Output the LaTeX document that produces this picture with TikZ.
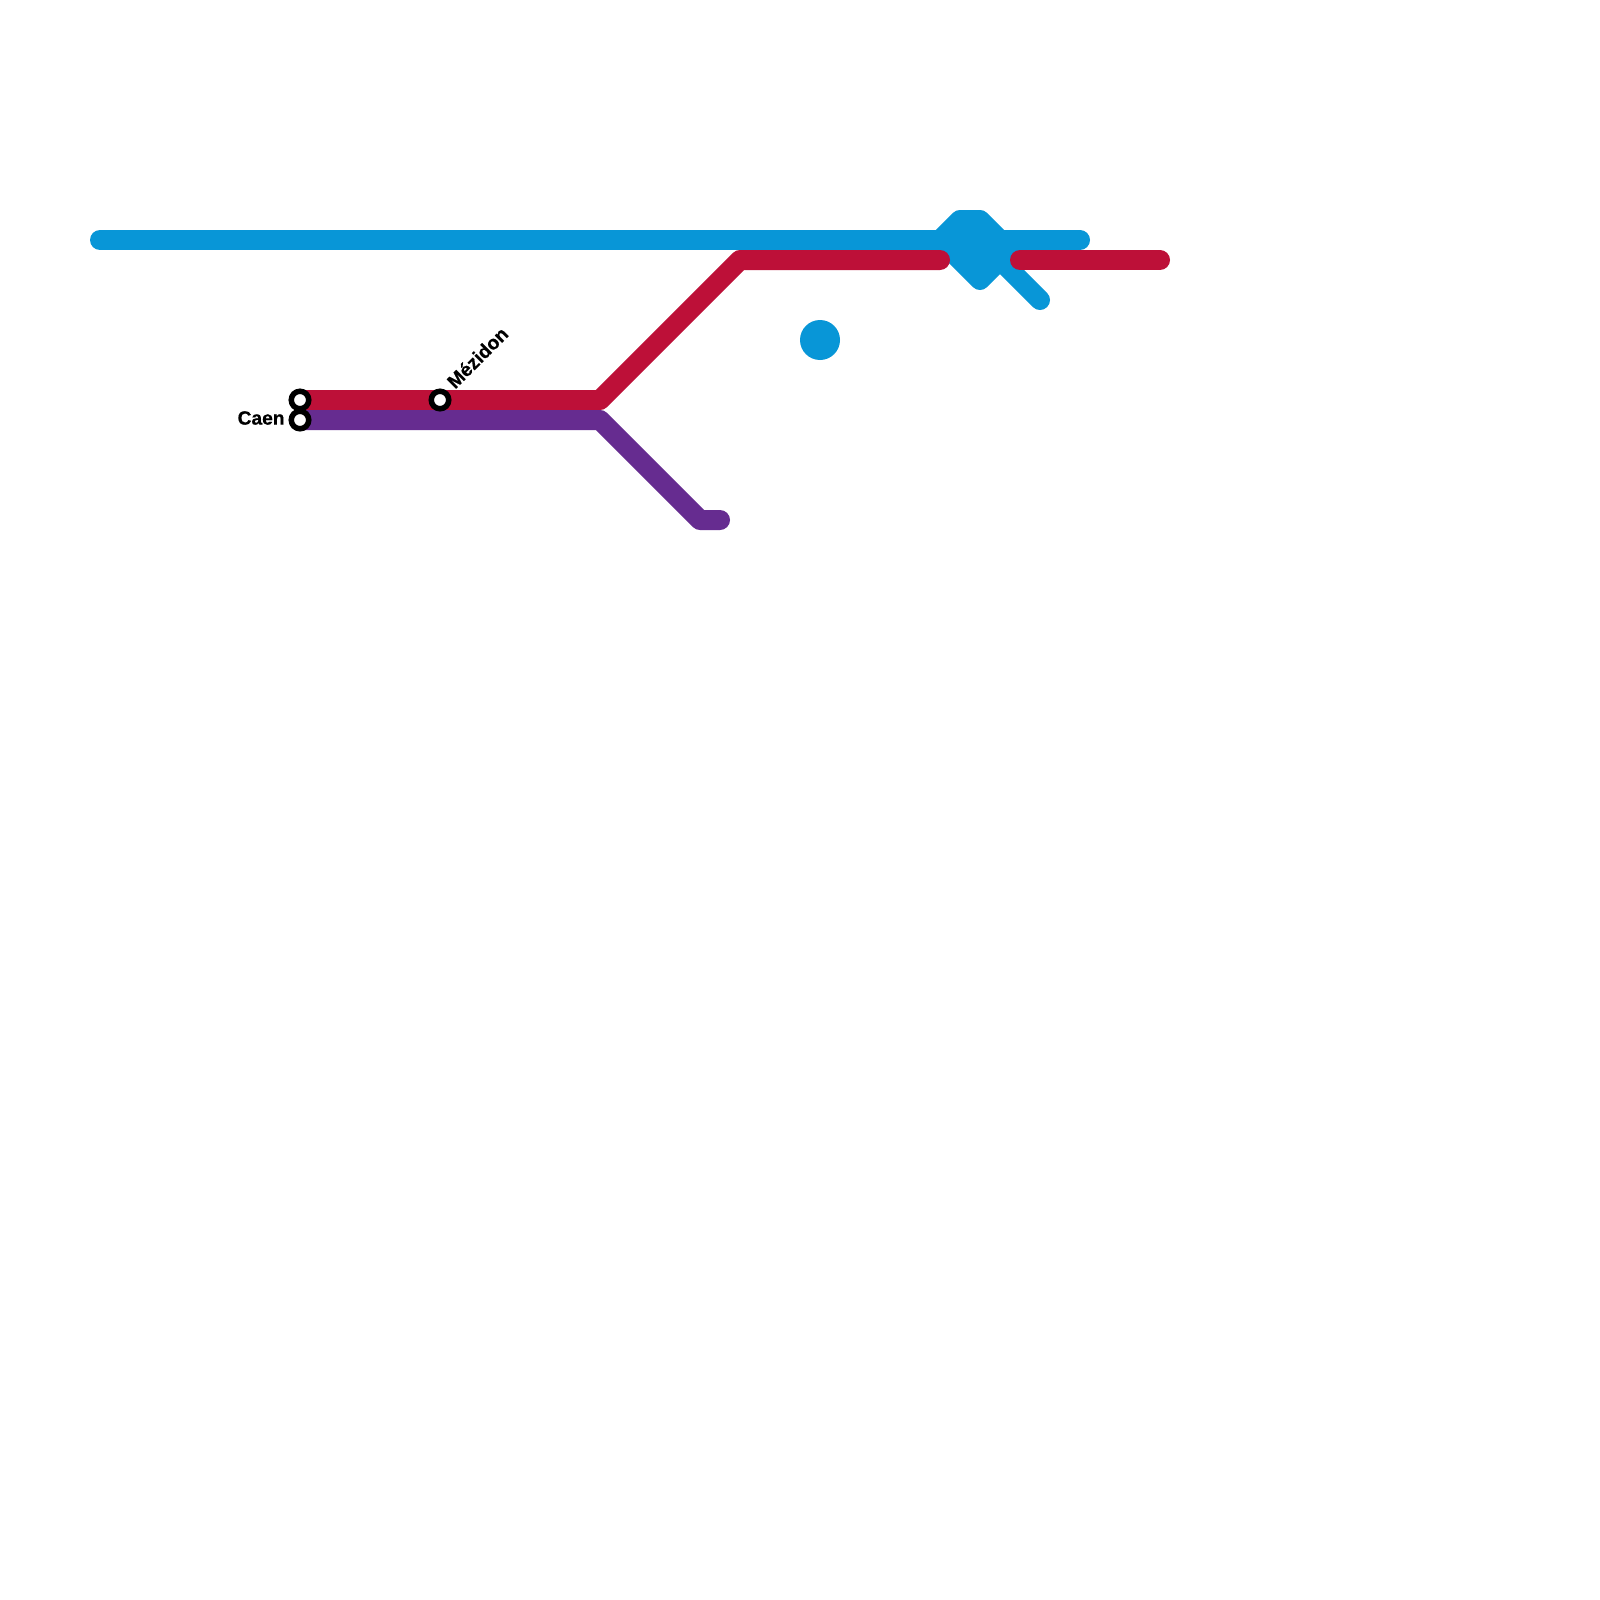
\documentclass[tikz,border=0pt]{standalone}
\usepackage{fontspec}
\setmainfont{Liberation Sans}[BoldFeatures={FakeBold=0.6}]
\definecolor{lblue}{HTML}{0896D7}
\definecolor{lred}{HTML}{BD1038}
\definecolor{lpurple}{HTML}{662C90}
\tikzset{
  x=0.5pt,y=-0.5pt,
  metro/.style={line width=10pt,line cap=round,line join=round},
  stn/.style={circle,draw=black,fill=white,line width=2.75pt,minimum size=8.75pt,inner sep=0pt},
  lbl/.style={font=\fontsize{9.6pt}{11pt}\selectfont\bfseries,inner sep=0pt},
  pt/.style={coordinate}
}
\begin{document}
\begin{tikzpicture}
\useasboundingbox (0,0) rectangle (1600,1600);
\fill[white] (0,0) rectangle (1600,1600);
% coordinates
\coordinate (bw) at (100,240);
\coordinate (be) at (1080,240);
\coordinate (k1) at (960,220);
\coordinate (k2) at (980,220);
\coordinate (k3) at (1000,240);
\coordinate (k4) at (1000,260);
\coordinate (k5) at (980,280);
\coordinate (k6) at (940,240);
\coordinate (t1) at (980,240);
\coordinate (t2) at (1040,300);
\coordinate (r1) at (600,400);
\coordinate (r2) at (740,260);
\coordinate (r3) at (940,260);
\coordinate (r4) at (1020,260);
\coordinate (r5) at (1160,260);
\coordinate (p1) at (600,420);
\coordinate (p2) at (700,520);
\coordinate (p3) at (720,520);
% blue line
\draw[metro,lblue] (bw) -- (be);
\draw[metro,lblue,fill=lblue] (k1) -- (k2) -- (k3) -- (k4) -- (k5) -- (k6) -- cycle;
\draw[metro,lblue] (t1) -- (t2);
\draw[metro,lblue] (k4) -- (r4);
\fill[lblue] (820,340) circle[radius=20] node[pt] (dot) {};
% stations placed first for connector names
\path (300,400) node[pt] (caenA) {} (300,420) node[pt] (caenB) {} (440,400) node[pt] (mez) {};
% red and purple
\draw[metro,lred] (caenA) -- (r1) -- (r2) -- (r3);
\draw[metro,lred] (r4) -- (r5);
\draw[metro,lpurple] (caenB) -- (p1) -- (p2) -- (p3);
% station markers
\node[stn] (sA) at (caenA) {};
\node[stn] (sB) at (caenB) {};
\node[stn] (sM) at (mez) {};
% labels
\node[lbl,anchor=east] (lC) at (285,418) {Caen};
\node[lbl,anchor=west,rotate=45] (lM) at (450,385) {Mézidon};
\end{tikzpicture}
\end{document}
